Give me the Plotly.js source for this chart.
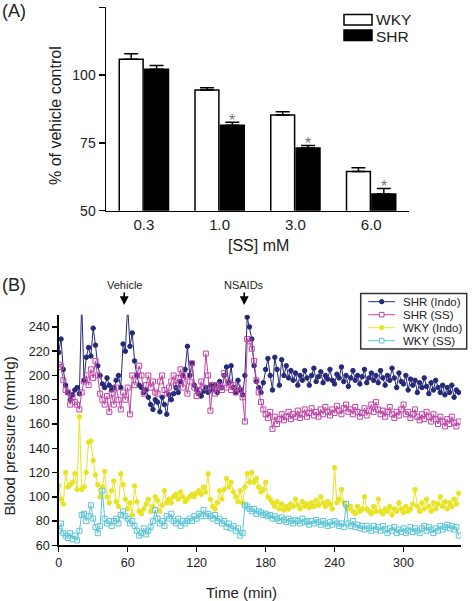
<!DOCTYPE html>
<html>
<head>
<meta charset="utf-8">
<script src="https://cdn.plot.ly/plotly-3.0.1.min.js"></script>
<style>html,body{margin:0;padding:0;background:#fff;}#chart{width:475px;height:601px;}</style>
</head>
<body>
<div id="chart"></div>
<script>
// ---------- Panel A data ----------
const conc = ["0.3", "1.0", "3.0", "6.0"];
const wkyMean = [105.8, 94.5, 85.3, 64.5];
const wkyErr = [2.1, 0.8, 1.2, 1.3];
const shrMean = [102.2, 81.5, 73.1, 56.2];
const shrErr = [1.3, 1.1, 0.9, 2.0];
const shrSig = [false, true, true, true];

// ---------- Panel B data ----------
const tMin = [
  0,2,4,6,8,10,12,14,16,18,
  20,22,24,26,28,30,32,34,36,38,
  40,42,44,46,48,50,52,54,56,58,
  60,62,64,66,68,70,72,74,76,78,
  80,82,84,86,88,90,92,94,96,98,
  100,102,104,106,108,110,112,114,116,118,
  120,122,124,126,128,130,132,134,136,138,
  140,142,144,146,148,150,152,154,156,158,
  160,162,164,166,168,170,172,174,176,178,
  180,182,184,186,188,190,192,194,196,198,
  200,202,204,206,208,210,212,214,216,218,
  220,222,224,226,228,230,232,234,236,238,
  240,242,244,246,248,250,252,254,256,258,
  260,262,264,266,268,270,272,274,276,278,
  280,282,284,286,288,290,292,294,296,298,
  300,302,304,306,308,310,312,314,316,318,
  320,322,324,326,328,330,332,334,336,338,
  340,342,344,346,348
];
const shrIndo = [
  219,230,205,192,186,180,184,188,190,185,
  262,196,215,223,216,239,225,208,200,193,
  190,198,192,188,190,196,200,190,226,220,
  258,224,235,212,200,192,190,186,188,182,
  176,172,180,178,170,182,176,168,184,180,
  185,190,186,195,200,205,224,200,210,192,
  188,185,183,187,190,186,192,188,192,186,
  195,190,200,207,194,208,190,186,196,188,
  184,200,248,240,230,208,195,190,186,194,
  205,214,200,188,215,205,192,213,200,208,
  198,204,196,202,192,200,196,204,198,192,
  200,206,195,199,203,194,200,197,205,196,
  193,201,198,207,195,200,191,198,204,196,
  200,193,199,205,194,198,202,196,200,194,
  204,198,192,200,196,206,198,190,202,195,
  193,200,188,197,192,196,186,194,190,198,
  191,185,194,188,196,190,186,192,184,190,
  186,192,182,188,186
];
const shrSS = [
  209,207,196,188,186,176,182,178,176,172,
  186,195,200,192,205,198,212,200,185,180,
  176,183,170,185,176,190,180,172,186,180,
  190,168,200,192,200,208,200,185,192,200,
  190,195,186,185,195,200,188,185,190,195,
  200,192,198,205,190,200,185,195,210,190,
  183,188,195,190,218,200,171,192,185,192,
  190,188,202,190,195,188,192,186,190,188,
  182,162,230,228,222,212,196,186,178,172,
  168,165,170,156,166,160,164,168,163,166,
  170,164,168,166,171,165,168,172,166,169,
  173,167,170,166,172,168,174,170,167,172,
  169,175,171,168,173,176,170,172,168,174,
  170,166,169,173,167,171,176,170,178,172,
  168,171,166,170,174,168,165,170,167,172,
  176,168,170,165,168,172,166,163,168,164,
  170,166,162,168,164,160,166,162,158,164,
  160,166,161,158,162
];
const wkyIndo = [
  109,98,94,120,108,110,112,119,106,166,
  106,108,120,145,146,130,118,110,100,108,
  121,100,95,105,113,96,92,119,110,98,
  90,95,85,109,96,88,86,90,94,98,
  88,92,100,97,88,93,105,95,98,95,
  100,102,98,104,100,96,98,100,102,100,
  103,105,102,108,104,119,98,92,90,95,
  105,98,106,115,108,112,104,100,96,105,
  95,108,119,112,120,112,115,108,104,106,
  112,100,98,95,92,96,90,94,89,92,
  90,94,92,98,93,90,96,92,94,91,
  95,92,97,93,100,95,92,96,94,90,
  124,95,98,106,95,92,90,92,88,86,
  92,88,90,100,90,88,86,92,88,98,
  88,86,90,88,92,85,90,88,95,90,
  87,92,88,90,94,106,92,88,95,90,
  98,92,88,95,90,94,100,92,96,90,
  95,92,98,94,103
];
const wkySS = [
  72,78,70,68,66,70,65,68,64,72,
  85,86,80,84,93,82,75,70,76,105,
  82,78,80,76,80,82,78,85,88,84,
  82,78,80,76,72,68,70,74,69,72,
  75,80,89,82,78,80,76,84,82,86,
  80,78,82,76,80,78,80,82,80,84,
  82,86,84,89,84,86,84,82,85,80,
  82,78,80,75,78,74,76,72,74,68,
  70,93,92,90,88,90,86,88,87,85,
  86,84,85,82,84,82,80,83,81,79,
  82,80,78,81,80,78,82,79,80,77,
  80,78,81,79,77,80,78,76,79,77,
  80,78,76,78,75,94,78,76,80,75,
  77,74,76,73,76,74,72,76,73,75,
  72,76,73,70,74,72,75,70,73,71,
  74,70,72,75,71,74,72,70,74,76,
  72,75,73,70,74,72,76,73,75,77,
  74,76,73,75,68
];
const seriesNames = ["SHR (Indo)", "SHR (SS)", "WKY (Indo)", "WKY (SS)"];
const eventNames = ["Vehicle", "NSAIDs"];
const eventTimes = [57, 161.4];

// ---------- styling ----------
const W = 475, H = 601;
const PX = v => v / W;
const PY = v => 1 - v / H;
const FONT = "Liberation Sans, Arial, sans-serif";
const TXT = "#222";
const colors = ["#25297a", "#bd45a5", "#e8e424", "#5cc5d5"];
const symbols = ["circle", "square-open", "circle", "square-open"];
const seriesY = [shrIndo, shrSS, wkyIndo, wkySS];

const traces = [
  {
    type: "bar", x: conc, y: wkyMean, name: "WKY", xaxis: "x", yaxis: "y",
    marker: {color: "#ffffff", line: {color: "#000", width: 1.5}},
    error_y: {type: "data", array: wkyErr, symmetric: false, arrayminus: wkyErr.map(() => 0),
              color: "#000", thickness: 1.5, width: 7},
    showlegend: false, hoverinfo: "skip"
  },
  {
    type: "bar", x: conc, y: shrMean, name: "SHR", xaxis: "x", yaxis: "y",
    marker: {color: "#000000", line: {color: "#000", width: 1.5}},
    error_y: {type: "data", array: shrErr, symmetric: false, arrayminus: shrErr.map(() => 0),
              color: "#000", thickness: 1.5, width: 7},
    showlegend: false, hoverinfo: "skip"
  }
];
seriesY.forEach((ys, i) => {
  traces.push({
    type: "scatter", mode: "lines+markers", x: tMin, y: ys, name: seriesNames[i],
    xaxis: "x2", yaxis: "y2",
    line: {color: colors[i], width: 1},
    marker: {color: colors[i], symbol: symbols[i], size: i % 2 ? 5 : 4.5,
             line: {color: colors[i], width: 1}},
    showlegend: false, hoverinfo: "skip"
  });
});

const annotations = [];
const shapes = [];
function paperText(text, x, y, size, extra) {
  return Object.assign({text: text, x: PX(x), y: PY(y), xref: "paper", yref: "paper",
    xanchor: "center", yanchor: "middle", showarrow: false,
    font: {family: FONT, size: size, color: TXT}}, extra || {});
}
// significance asterisks (category index used as x position)
shrSig.forEach((s, i) => {
  if (!s) return;
  annotations.push({
    x: i, y: shrMean[i] + shrErr[i], xref: "x", yref: "y", xshift: 12.7, yshift: 2,
    text: "*", showarrow: false, xanchor: "center", yanchor: "middle",
    font: {family: FONT, size: 16, color: "#777"}
  });
});
// axis titles & panel labels
annotations.push(
  paperText("% of vehicle control", 55, 116, 16, {textangle: -90}),
  paperText("[SS] mM", 258.3, 245, 16),
  paperText("Blood pressure (mmHg)", 8.5, 436, 15, {textangle: -90}),
  paperText("Time (min)", 241, 592, 15),
  paperText("(A)", 0, 11, 18, {xanchor: "left"}),
  paperText("(B)", 0, 285, 18, {xanchor: "left"})
);
eventNames.forEach((n, i) => {
  annotations.push({
    text: n, x: eventTimes[i], xref: "x2", y: PY(305), yref: "paper",
    showarrow: true, ax: 0, ay: -20, arrowhead: 2, arrowsize: 1.1, arrowwidth: 1.6, arrowcolor: "#000",
    font: {family: FONT, size: 11, color: TXT}
  });
});
// legend A
shapes.push(
  {type: "rect", xref: "paper", yref: "paper", x0: PX(344), x1: PX(372), y0: PY(25), y1: PY(14.5),
   fillcolor: "#fff", line: {color: "#000", width: 1.5}},
  {type: "rect", xref: "paper", yref: "paper", x0: PX(344), x1: PX(372), y0: PY(40.5), y1: PY(30),
   fillcolor: "#000", line: {color: "#000", width: 1.5}}
);
annotations.push(
  paperText("WKY", 375, 19.5, 15.5, {xanchor: "left", borderpad: 0}),
  paperText("SHR", 375, 36.5, 15.5, {xanchor: "left", borderpad: 0})
);
// legend B
shapes.push({type: "rect", xref: "paper", yref: "paper", x0: PX(360.7), x1: PX(466.7), y0: PY(349), y1: PY(293.5),
             fillcolor: "#fff", line: {color: "#333", width: 1.5}, layer: "above"});
const legRows = [301.7, 314.7, 327.7, 340.7];
seriesNames.forEach((n, i) => {
  const yy = legRows[i];
  shapes.push({type: "line", xref: "paper", yref: "paper", x0: PX(368.3), x1: PX(395), y0: PY(yy), y1: PY(yy),
               line: {color: colors[i], width: 1}, layer: "above"});
  if (symbols[i] === "circle") {
    shapes.push({type: "circle", xref: "paper", yref: "paper", x0: PX(379.5), x1: PX(383.9), y0: PY(yy + 2.2), y1: PY(yy - 2.2),
                 fillcolor: colors[i], line: {color: colors[i], width: 1}, layer: "above"});
  } else {
    shapes.push({type: "rect", xref: "paper", yref: "paper", x0: PX(379.4), x1: PX(384), y0: PY(yy + 2.3), y1: PY(yy - 2.3),
                 fillcolor: "#fff", line: {color: colors[i], width: 1}, layer: "above"});
  }
  annotations.push(paperText(n, 401.5, yy, 11.5, {xanchor: "left", borderpad: 0}));
});

const axisCommon = {showline: true, linecolor: "#000", linewidth: 1.5, showgrid: false, zeroline: false,
                    tickcolor: "#000", tickwidth: 1.5, fixedrange: true};
const layout = {
  width: W, height: H, margin: {l: 0, r: 0, t: 0, b: 0},
  paper_bgcolor: "#fff", plot_bgcolor: "#fff",
  font: {family: FONT, color: TXT},
  showlegend: false, barmode: "group", bargap: 0.33, bargroupgap: 0.06,
  xaxis: Object.assign({}, axisCommon, {
    domain: [PX(106), PX(409)], anchor: "y", type: "category", categoryorder: "array", categoryarray: conc,
    range: [-0.5, 3.5], ticks: "", tickfont: {family: FONT, size: 15, color: TXT}
  }),
  yaxis: Object.assign({}, axisCommon, {
    domain: [PY(210.7), PY(7.3)], anchor: "x", range: [50, 125], tickvals: [50, 75, 100, 125],
    ticks: "outside", ticklen: 6, tickfont: {family: FONT, size: 14, color: TXT}
  }),
  xaxis2: Object.assign({}, axisCommon, {
    domain: [PX(58.7), PX(461)], anchor: "y2", range: [0, 350], tickvals: [0, 60, 120, 180, 240, 300],
    ticks: "outside", ticklen: 5, tickfont: {family: FONT, size: 12.5, color: TXT}
  }),
  yaxis2: Object.assign({}, axisCommon, {
    domain: [PY(545.3), PY(314.8)], anchor: "x2", range: [60, 250], tickvals: [60, 80, 100, 120, 140, 160, 180, 200, 220, 240],
    ticks: "outside", ticklen: 5, tickfont: {family: FONT, size: 12.5, color: TXT}
  }),
  annotations: annotations,
  shapes: shapes
};
Plotly.newPlot("chart", traces, layout, {displayModeBar: false, staticPlot: true});
</script>
</body>
</html>
